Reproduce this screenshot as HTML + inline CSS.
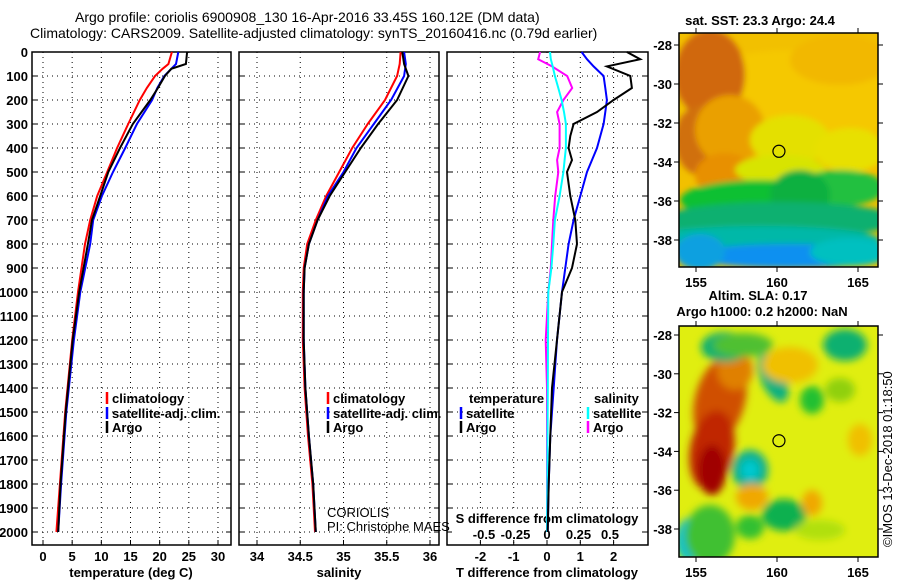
<!DOCTYPE html>
<html><head><meta charset="utf-8"><style>
html,body{margin:0;padding:0;background:#fff;}
svg{display:block;font-family:"Liberation Sans",sans-serif;}
.tk{font-size:13px;font-weight:bold;}
.lg{font-size:13px;font-weight:bold;}
</style></head><body>
<svg id="c" width="900" height="580" viewBox="0 0 900 580">
<defs>
<filter id="bl" x="-20%" y="-20%" width="140%" height="140%"><feGaussianBlur stdDeviation="4"/></filter>
<filter id="bl2" x="-20%" y="-20%" width="140%" height="140%"><feGaussianBlur stdDeviation="3"/></filter>
<clipPath id="m1"><rect x="679" y="33" width="199" height="234"/></clipPath>
<clipPath id="m2"><rect x="679" y="326" width="199" height="231"/></clipPath>
</defs>
<text x="75" y="22" font-size="14">Argo profile: coriolis 6900908_130 16-Apr-2016 33.45S 160.12E (DM data)</text>
<text x="30" y="38" font-size="14">Climatology: CARS2009. Satellite-adjusted climatology: synTS_20160416.nc (0.79d earlier)</text>
<g id="g"></g>
</svg>
<script>
// depth levels (m)
const depthT = [0,50,70,100,150,200,300,400,500,600,700,800,1000,1200,1500,1800,2000];
const tempClim = [22.1,21.5,20.5,19.2,17.8,16.6,14.6,12.7,11.0,9.3,8.1,7.2,6.0,5.0,3.8,2.9,2.3];
const tempSat = [23.2,22.8,22.0,20.8,19.6,18.7,16.1,14.1,12.0,10.1,8.6,8.1,6.4,5.3,4.0,3.1,2.6];
const tempArgo = [24.7,24.5,22.0,20.9,19.7,18.4,15.4,13.2,11.2,9.8,8.4,7.7,6.2,5.1,3.9,3.0,2.6];
const depthS = [0,50,100,200,300,400,500,600,700,800,900,1000,1200,1400,1600,1800,2000];
const salClim = [35.66,35.65,35.62,35.48,35.28,35.10,34.95,34.80,34.68,34.58,34.54,34.53,34.53,34.55,34.59,34.64,34.67];
const salSat = [35.70,35.72,35.70,35.55,35.35,35.15,35.00,34.82,34.70,34.60,34.55,34.54,34.54,34.56,34.60,34.65,34.68];
const salArgo = [35.68,35.70,35.75,35.62,35.40,35.20,35.02,34.84,34.70,34.60,34.55,34.54,34.54,34.56,34.60,34.65,34.68];
const depthD = [0,30,60,100,150,200,250,300,350,400,450,500,600,700,800,900,1000,1200,1400,1600,1800,2000];
const dTsat = [1.04,1.2,1.4,1.7,1.75,1.8,1.75,1.7,1.6,1.5,1.35,1.2,1.0,0.8,0.65,0.55,0.45,0.3,0.2,0.1,0.05,0.02];
const dTargo = [2.4,2.8,1.8,2.5,2.55,2.0,1.5,0.8,0.7,0.65,0.75,0.6,0.7,0.85,0.9,0.75,0.45,0.3,0.15,0.1,0.05,0.02];
const dSsat = [0.024,0.03,0.045,0.063,0.09,0.116,0.135,0.15,0.15,0.15,0.14,0.13,0.1,0.063,0.05,0.035,0.01,0.008,0.006,0.004,0.002,0.0];
const dSargo = [-0.055,-0.07,0.04,0.16,0.2,0.13,0.08,0.1,0.1,0.1,0.08,0.09,0.065,0.05,0.04,0.03,0.01,-0.01,0.0,0.0,0.0,0.0];
const depthTicks = [0,100,200,300,400,500,600,700,800,900,1000,1100,1200,1300,1400,1500,1600,1700,1800,1900,2000];
const tTicks = [0,5,10,15,20,25,30];
const sTicks = [34,34.5,35,35.5,36];
const sLabels = ["34","34.5","35","35.5","36"];
const dtTicks = [-2,-1,0,1,2];
const dsTicks = [-0.5,-0.25,0,0.25,0.5];
const dsLabels = ["-0.5","-0.25","0","0.25","0.5"];
const latTicks = [-28,-30,-32,-34,-36,-38];
const lonTicks = [155,160,165];

const NS="http://www.w3.org/2000/svg";
const G=document.getElementById('g');
function mk(t,a,p){const e=document.createElementNS(NS,t);for(const k in a)e.setAttribute(k,a[k]);(p||G).appendChild(e);return e;}
const Y=d=>52+d*0.24;
const xT=v=>43+v*5.833;
const xS=v=>257+(v-34)*86.5;
const xDT=v=>547+v*33.3;
const xDS=v=>547+v*126;
const TOP=52,BOT=545;

function panel(x0,x1,name,vticks,fx){
  const g=mk('g',{});
  
  
  depthTicks.forEach(d=>{mk('line',{x1:x0,x2:x1,y1:Y(d),y2:Y(d),stroke:'#000','stroke-width':1,'stroke-dasharray':'1,4'},g);
    mk('line',{x1:x0,x2:x0+5,y1:Y(d),y2:Y(d),stroke:'#000'},g);mk('line',{x1:x1-5,x2:x1,y1:Y(d),y2:Y(d),stroke:'#000'},g);});
  vticks.forEach(v=>{const x=fx(v);mk('line',{x1:x,x2:x,y1:TOP,y2:BOT,stroke:'#000','stroke-dasharray':'1,4'},g);
    mk('line',{x1:x,x2:x,y1:BOT-5,y2:BOT,stroke:'#000'},g);});
  mk('rect',{x:x0,y:TOP,width:x1-x0,height:BOT-TOP,fill:'none',stroke:'#000','stroke-width':1.5},g);
  return g;
}
function line(xs,ds,fx,col,name,w){
  const pts=xs.map((v,i)=>fx(v).toFixed(1)+','+Y(ds[i]).toFixed(1)).join(' ');
  const p=mk('polyline',{points:pts,fill:'none',stroke:col,'stroke-width':w||2});
  
  
}
function txt(x,y,s,cls,anchor,name){const t=mk('text',{x:x,y:y,class:cls,'text-anchor':anchor||'start'});t.textContent=s;
  return t;}

// Panel 1
panel(32,231,'temperature-panel',tTicks,xT);
depthTicks.forEach(d=>txt(28,Y(d)+5,String(d),'tk','end','depth-tick-label'));
tTicks.forEach(v=>txt(xT(v),561,String(v),'tk','middle','temp-tick-label'));
txt(131,577,'temperature (deg C)','tk','middle','temp-axis-title');
line(tempClim,depthT,xT,'#f00','temp-climatology-line');
line(tempSat,depthT,xT,'#00f','temp-satellite-line');
line(tempArgo,depthT,xT,'#000','temp-argo-line');
// Panel 2
panel(239,439,'salinity-panel',sTicks,xS);
sTicks.forEach((v,i)=>txt(xS(v),561,sLabels[i],'tk','middle','sal-tick-label'));
txt(339,577,'salinity','tk','middle','sal-axis-title');
line(salClim,depthS,xS,'#f00','sal-climatology-line');
line(salSat,depthS,xS,'#00f','sal-satellite-line');
line(salArgo,depthS,xS,'#000','sal-argo-line');
txt(327,517,'CORIOLIS','','start','coriolis-label').setAttribute('font-size','13');
txt(327,531,'PI: Christophe MAES','','start','pi-label').setAttribute('font-size','13');
// Panel 3
panel(447,648,'difference-panel',dtTicks,xDT);
dtTicks.forEach(v=>txt(xDT(v),561,String(v),'tk','middle','dt-tick-label'));
txt(547,577,'T difference from climatology','tk','middle','dt-axis-title');
mk('rect',{x:452,y:511,width:190,height:28,fill:'#fff'});
txt(547,523,'S difference from climatology','tk','middle','ds-axis-title');
dsTicks.forEach((v,i)=>txt(xDS(v),539,dsLabels[i],'tk','middle','ds-tick-label'));
line(dSargo,depthD,xDS,'#f0f','sdiff-argo-line');
line(dSsat,depthD,xDS,'#0ff','sdiff-satellite-line');
line(dTsat,depthD,xDT,'#00f','tdiff-satellite-line');
line(dTargo,depthD,xDT,'#000','tdiff-argo-line');

// legends
function leg(mx,y,col,s,name){mk('line',{x1:mx,x2:mx,y1:y-6,y2:y+6,stroke:col,'stroke-width':2.5});txt(mx+5,y+5,s,'lg','start',name);}
leg(107,398,'#f00','climatology','legend-climatology');
leg(107,413,'#00f','satellite-adj. clim.','legend-satellite');
leg(107,427,'#000','Argo','legend-argo');
leg(328,398,'#f00','climatology','legend-climatology-2');
leg(328,413,'#00f','satellite-adj. clim.','legend-satellite-2');
leg(328,427,'#000','Argo','legend-argo-2');
txt(469,403,'temperature','lg','start','legend-temperature-heading');
leg(461,413,'#00f','satellite','legend-t-satellite');
leg(461,427,'#000','Argo','legend-t-argo');
txt(594,403,'salinity','lg','start','legend-salinity-heading');
leg(588,413,'#0ff','satellite','legend-s-satellite');
leg(588,427,'#f0f','Argo','legend-s-argo');

// Maps
const lonX=l=>696+(l-155)*16.2;
const latY1=a=>45+(-28-a)*19.5;
const latY2=a=>335+(-28-a)*19.4;
function blobs(clip,bg,list,filt){const g=mk('g',{'clip-path':'url(#'+clip+')'});
  mk('rect',{x:679,y:clip==='m1'?33:326,width:199,height:234,fill:bg},g);
  const f=mk('g',{filter:'url(#'+filt+')'},g);
  list.forEach(b=>mk('ellipse',{cx:b[0],cy:b[1],rx:b[2],ry:b[3],fill:b[4],transform:'rotate('+(b[5]||0)+' '+b[0]+' '+b[1]+')'},f));return g;}
const m1=blobs('m1','#f2c000',[
 [790,100,110,50,'#f5c800'],[840,60,50,25,'#f2b800'],[710,75,35,45,'#d06810'],[700,140,25,35,'#d07010'],
 [730,130,35,35,'#eaa000'],[725,175,30,22,'#e89000'],[790,140,40,25,'#e4e000'],[850,150,35,22,'#e8e000'],
 [780,170,45,15,'#d8e400'],
 [760,200,80,20,'#10c030'],[840,188,45,18,'#20c040'],[800,195,30,25,'#10b040'],
 [780,220,120,18,'#10b070'],[760,240,120,14,'#00b8a8'],[790,256,100,12,'#1090f0'],[850,252,40,14,'#00c0c0'],[700,252,25,18,'#10a0e0']],'bl2');

const m2=blobs('m2','#e0ee10',[
 [720,400,25,45,'#d05000',15],[712,450,22,40,'#c02800',10],[712,470,14,25,'#a00000'],[735,370,18,20,'#e08000'],
 [750,470,18,20,'#10b090'],[750,470,9,10,'#00c8d0'],[773,378,12,26,'#10b080',-25],[725,347,24,15,'#10b070'],[845,345,22,16,'#10b070'],
 [784,515,22,16,'#10b050'],[690,540,14,22,'#00c0d0'],[710,535,25,30,'#40c030'],[750,527,14,12,'#30c030'],[812,400,12,14,'#20c030'],
 [790,365,28,18,'#f0c000'],[752,497,16,13,'#f0a800'],[812,503,10,13,'#f0a800'],[860,440,12,16,'#f0c000'],[743,345,30,12,'#50c030'],
 [840,390,15,12,'#90d010'],[820,530,25,10,'#b0e010']],'bl');

function mapAxes(y0,h,fy,name){
  const g=mk('g',{});
  mk('rect',{x:679,y:y0,width:199,height:h,fill:'none',stroke:'#000','stroke-width':1.5},g);
  latTicks.forEach(a=>{const y=fy(a);mk('line',{x1:674,x2:679,y1:y,y2:y,stroke:'#000'},g);mk('line',{x1:878,x2:883,y1:y,y2:y,stroke:'#000'},g);
    txt(672,y+5,String(a),'tk','end','lat-tick-label');});
  lonTicks.forEach(l=>{const x=lonX(l);mk('line',{x1:x,x2:x,y1:y0+h,y2:y0+h+5,stroke:'#000'},g);mk('line',{x1:x,x2:x,y1:y0-5,y2:y0,stroke:'#000'},g);
    txt(x,y0+h+20,String(l),'tk','middle','lon-tick-label');});
  mk('circle',{cx:lonX(160.12),cy:fy(-33.45),r:6,fill:'none',stroke:'#000','stroke-width':1.2},g);
}
mapAxes(33,234,latY1,'sst-map-axes');
mapAxes(326,231,latY2,'sla-map-axes');
txt(760,25,'sat. SST: 23.3 Argo: 24.4','tk','middle','sst-map-title');
txt(758,300,'Altim. SLA: 0.17','tk','middle','sla-map-title');
txt(762,316,'Argo h1000: 0.2 h2000: NaN','tk','middle','sla-map-subtitle');
const cr=txt(0,0,'©IMOS 13-Dec-2018 01:18:50','','start','copyright-label');
cr.setAttribute('font-size','13');cr.setAttribute('transform','translate(892,547) rotate(-90)');
</script>
</body></html>
